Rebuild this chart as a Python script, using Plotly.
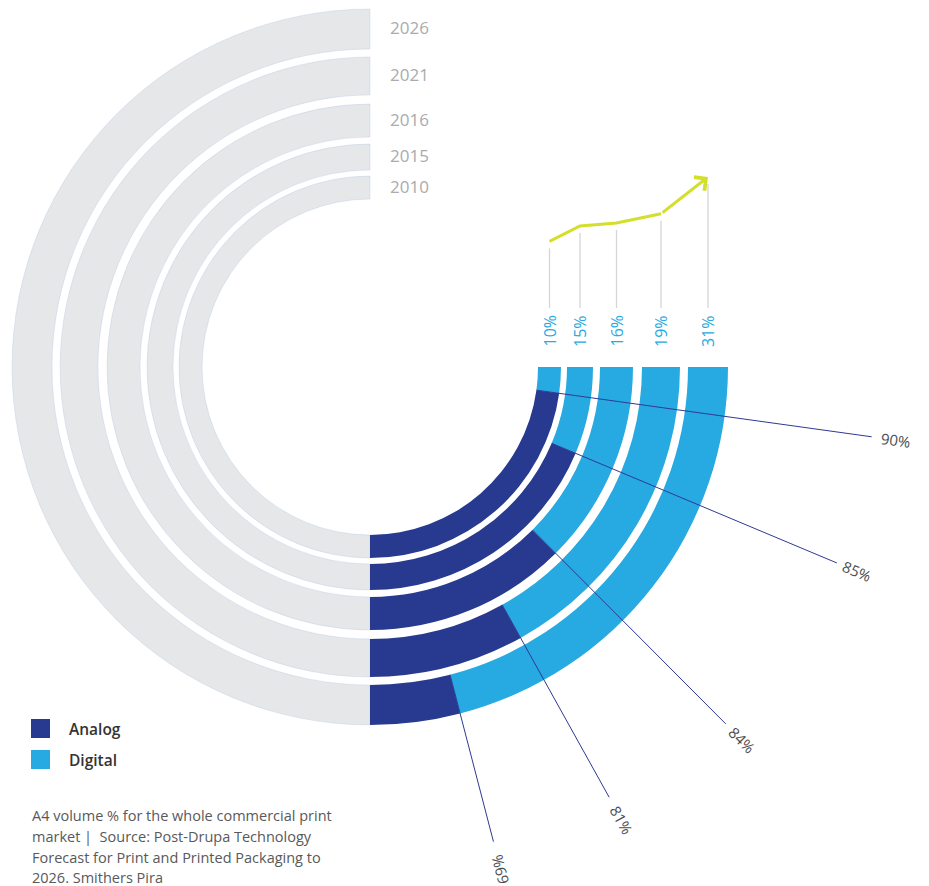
import numpy as np
import plotly.graph_objects as go

# ---------------- data ----------------
years = ["2010", "2015", "2016", "2021", "2026"]
analog_pct = [90, 85, 84, 81, 69]
digital_pct = [10, 15, 16, 19, 31]
# share of the lower-right quarter ring painted in the analog colour, as drawn in the graphic
analog_arc_share = [0.912, 0.747, 0.499, 0.323, 0.162]
analog_labels = ["90%", "85%", "84%", "81%", "%69"]
digital_labels = [f"{v}%" for v in digital_pct]
legend_names = ["Analog", "Digital"]
footnote_lines = [
    "A4 volume % for the whole commercial print",
    "market |  Source: Post-Drupa Technology",
    "Forecast for Print and Printed Packaging to",
    "2026. Smithers Pira",
]

# ---------------- layout constants ----------------
W, H = 929, 886
CX, CY = 370, 367          # centre of the rings (pixels)
R_MAX = 359
ring_inner = [168, 197, 230, 272, 318]
ring_outer = [191, 223, 263, 310, 358]
leader_end_r = [508, 508, 506, 494, 492]
label_r = [531, 528, 527, 518, 519]

C_GRAY = "#e6e7e8"
C_ANALOG = "#283a8f"
C_DIGITAL = "#27a9e1"
C_LEADER = "#2e3a94"
C_GREEN = "#d3df2a"
FONT = "Open Sans"

inner = np.array(ring_inner, float)
outer = np.array(ring_outer, float)
mid = (inner + outer) / 2
thick = outer - inner
sweep = 90 * np.array(analog_arc_share)

fig = go.Figure()

# gray left half
fig.add_trace(go.Barpolar(
    theta=[180] * 5, width=[180] * 5, base=inner, r=thick,
    marker=dict(color=C_GRAY, line=dict(color="rgba(160,182,226,0.45)", width=0.6)),
    showlegend=False, hoverinfo="skip"))
# analog
fig.add_trace(go.Barpolar(
    theta=-90 + sweep / 2, width=sweep, base=inner, r=thick, name=legend_names[0],
    marker=dict(color=C_ANALOG, line=dict(width=0)), showlegend=False))
# digital
fig.add_trace(go.Barpolar(
    theta=-90 + sweep + (90 - sweep) / 2, width=90 - sweep, base=inner, r=thick,
    name=legend_names[1],
    marker=dict(color=C_DIGITAL, line=dict(width=0)), showlegend=False))

# value scale for the trend line (y2): pixel = 241.3 - 3.06*(v-10)
def px_to_val(py):
    return 10 - (py - 241.3) / 3.06

# gray guide lines
gx, gy = [], []
for m, v in zip(mid, digital_pct):
    gx += [m, m, None]
    gy += [px_to_val(308), v - 2.3, None]
fig.add_trace(go.Scatter(x=gx, y=gy, xaxis="x", yaxis="y2", mode="lines",
                         line=dict(color="#d6d6d6", width=1.3),
                         showlegend=False, hoverinfo="skip"))
# trend line
fig.add_trace(go.Scatter(x=mid[:-1], y=digital_pct[:-1], xaxis="x", yaxis="y2",
                         mode="lines", line=dict(color=C_GREEN, width=3),
                         showlegend=False, hoverinfo="skip"))

annotations = []
# trend arrow head (last segment)
annotations.append(dict(
    x=mid[-1], y=digital_pct[-1], xref="x", yref="y2",
    ax=mid[-2], ay=digital_pct[-2], axref="x", ayref="y2",
    text="", showarrow=True, arrowhead=4, arrowsize=1.1, arrowwidth=3,
    arrowcolor=C_GREEN, standoff=0))

# leader lines and analog labels
for i in range(5):
    th = np.radians(-90 + sweep[i])
    c, s = np.cos(th), np.sin(th)
    annotations.append(dict(
        x=inner[i] * c, y=inner[i] * s, xref="x", yref="y",
        ax=leader_end_r[i] * c, ay=leader_end_r[i] * s, axref="x", ayref="y",
        text="", showarrow=True, arrowhead=0, arrowwidth=1,
        arrowcolor=C_LEADER, standoff=0, startstandoff=0))
    annotations.append(dict(
        x=label_r[i] * c, y=label_r[i] * s, xref="x", yref="y",
        text=analog_labels[i], showarrow=False, textangle=-np.degrees(th),
        font=dict(family=FONT, size=15, color="#4d4d4f")))

# year labels
for i in range(5):
    annotations.append(dict(
        x=18, y=mid[i] + 1.5, xref="x", yref="y", xanchor="left", yanchor="middle",
        text=years[i], showarrow=False,
        font=dict(family=FONT, size=17, color="#a9abae")))

# digital labels
for i in range(5):
    annotations.append(dict(
        x=mid[i], y=CY - 331, xref="x", yref="y", text=digital_labels[i],
        showarrow=False, textangle=-90,
        font=dict(family=FONT, size=16, color=C_DIGITAL)))

# legend
def py(p):
    return 1 - p / H

shapes = []
for name, col, y0 in [(legend_names[0], C_ANALOG, 719), (legend_names[1], C_DIGITAL, 750)]:
    shapes.append(dict(type="rect", xref="paper", yref="paper",
                       x0=31 / W, x1=50 / W, y0=py(y0 + 19), y1=py(y0),
                       fillcolor=col, line=dict(width=0)))
    annotations.append(dict(
        x=67 / W, y=py(y0 + 9.5), xref="paper", yref="paper",
        xanchor="left", yanchor="middle", text=name, showarrow=False,
        font=dict(family=FONT, size=15.5, color="#333333", weight=600)))

# footnote
for line, yc in zip(footnote_lines, [815, 836, 857, 877]):
    annotations.append(dict(
        x=30 / W, y=py(yc), xref="paper", yref="paper",
        xanchor="left", yanchor="middle", text=line, showarrow=False,
        font=dict(family=FONT, size=14.5, color="#58595b")))

fig.update_layout(
    width=W, height=H, margin=dict(l=0, r=0, t=0, b=0),
    paper_bgcolor="white", plot_bgcolor="rgba(0,0,0,0)",
    showlegend=False,
    polar=dict(
        domain=dict(x=[(CX - R_MAX) / W, (CX + R_MAX) / W],
                    y=[1 - (CY + R_MAX) / H, 1 - (CY - R_MAX) / H]),
        bgcolor="rgba(0,0,0,0)",
        radialaxis=dict(range=[0, R_MAX], visible=False, showgrid=False),
        angularaxis=dict(visible=False, showgrid=False, rotation=0,
                         direction="counterclockwise"),
        bargap=0,
    ),
    xaxis=dict(range=[-CX, W - CX], domain=[0, 1], visible=False, fixedrange=True),
    yaxis=dict(range=[-(H - CY), CY], domain=[0, 1], visible=False, fixedrange=True),
    yaxis2=dict(range=[px_to_val(H), px_to_val(0)], domain=[0, 1], overlaying="y",
                visible=False, fixedrange=True),
    annotations=annotations, shapes=shapes,
)

fig.write_html("out.html")
